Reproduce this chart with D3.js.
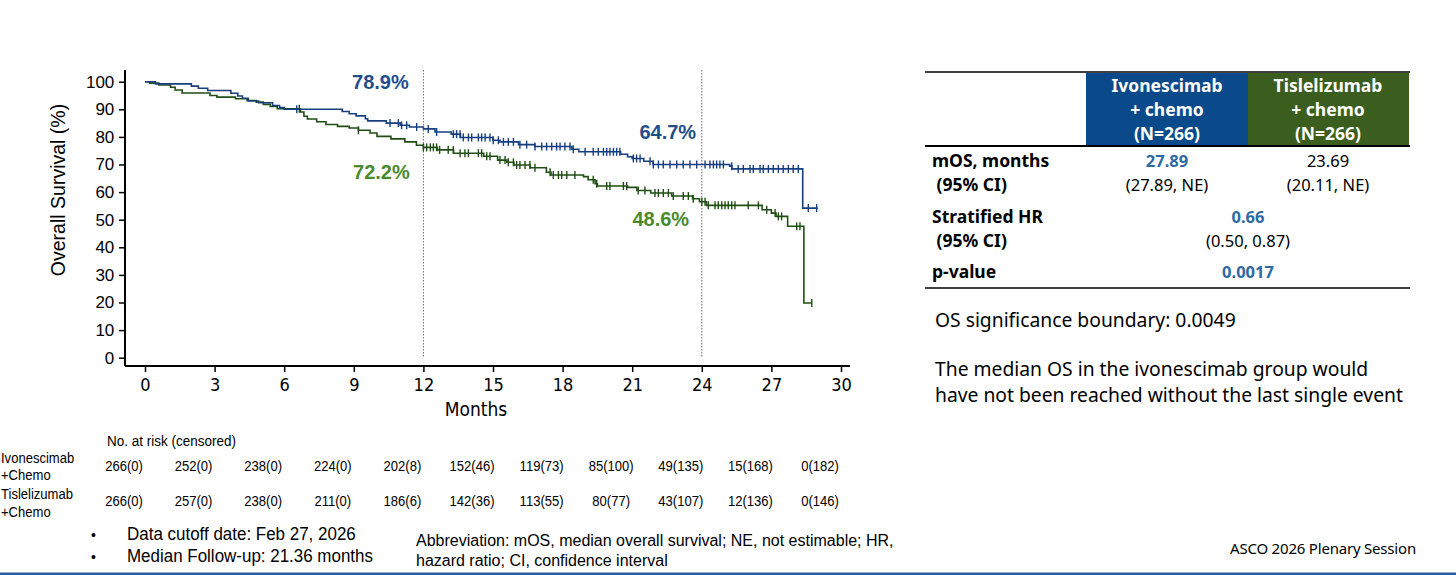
<!DOCTYPE html>
<html>
<head>
<meta charset="utf-8">
<script src="https://cdn.jsdelivr.net/npm/d3@7"></script>
<style>
  body { margin: 0; background: #fff; }
</style>
</head>
<body>
<div id="chart"></div>
<script>
// KM step data: [month, survival %] (value holds from that month on)
const ivoSteps = [[0,100],[0.45,99.2],[2.0,98.4],[2.3,97.6],[2.7,96.8],[3.7,95.8],[4.0,94.8],[4.2,94],[4.45,93],
  [4.9,92.4],[5.5,91.4],[5.8,90.6],[6.0,90],[8.5,89.2],[8.8,88.4],[9.1,87.6],[9.5,86.6],[9.6,85.8],[10.4,85.0],
  [11.0,84.2],[11.4,83.6],[12.0,82.9],[12.5,81.8],[13.2,81.0],[13.6,79.8],[15.0,78.8],[15.3,78.2],[16.1,77.2],
  [16.8,76.5],[18.4,75.5],[18.7,74.6],[20.5,73.7],[20.8,72.8],[21.0,72.2],[21.5,71.2],[21.9,70.0],[25.2,69.4],
  [25.3,68.4],[28.35,54.2],[29.0,54.2]];
const tisSteps = [[0,100],[0.2,99.5],[0.6,98.8],[1.1,98.0],[1.3,97],[1.6,95.9],[2.8,95.0],[3.1,94.4],[3.9,93.8],
  [4.4,93.2],[4.8,92.6],[5.1,91.8],[5.4,91.0],[5.7,90.2],[6.7,89],[6.85,87.5],[7.0,86.5],[7.4,85.5],[7.8,84.5],
  [8.3,83.8],[8.8,83.2],[9.2,82.4],[9.7,81.4],[10.0,80.2],[10.6,79.3],[11.2,78.2],[11.7,77.0],[12.0,76.2],
  [12.6,75.3],[13.3,74.1],[14.6,73.0],[15.2,71.6],[15.6,70.8],[15.9,69.8],[16.6,68.8],[17.3,67.2],[17.5,66.2],
  [18.9,65.6],[19.1,64.5],[19.4,63.0],[19.5,62.2],[20.8,61.7],[21.2,60.6],[21.8,59.7],[22.7,58.6],[23.6,57.6],
  [23.9,56.5],[24.2,55.2],[26.6,53.6],[27.0,52.4],[27.2,51.2],[27.7,47.6],[28.4,19.8],[28.75,19.8]];

// censoring times (months)
const ivoCensor = [6.54,10.56,10.92,11.06,11.28,11.71,12.21,12.57,13.29,13.43,13.58,13.72,13.94,14.08,14.37,14.51,
  14.66,14.87,15.01,15.23,15.45,15.66,15.88,16.16,16.45,16.81,17.1,17.31,17.53,17.74,17.89,18.1,18.32,18.46,18.97,
  19.32,19.54,19.76,19.9,20.04,20.19,20.33,20.47,21.05,21.19,21.34,21.77,21.91,22.13,22.34,22.63,22.92,23.2,23.49,
  23.78,24.14,24.35,24.5,24.64,24.78,24.93,25.29,25.57,25.79,26.08,26.22,26.51,26.65,26.87,27.08,27.3,27.51,27.73,
  27.94,28.16,28.59,28.95];
const tisCensor = [6.65,9.2,12.0,12.14,12.3,12.43,12.57,12.7,13.07,13.29,13.58,13.79,13.94,14.37,14.51,14.73,14.87,
  15.3,15.52,15.66,15.88,16.02,16.16,16.38,16.59,16.81,17.46,17.6,17.82,17.96,18.18,18.53,19.32,19.47,19.9,20.04,
  20.62,20.76,21.26,21.55,21.98,22.13,22.34,22.56,22.77,23.2,23.42,23.63,24.0,24.14,24.28,24.57,24.71,24.86,25.0,
  25.14,25.29,25.43,26.0,26.44,26.8,27.16,27.3,27.44,28.09,28.23,28.74];

const xTicks = [0,3,6,9,12,15,18,21,24,27,30];
const yTicks = [0,10,20,30,40,50,60,70,80,90,100];
const landmarks = [12, 24];
const landmarkLabels = [
  {month: 12, ivo: "78.9%", tis: "72.2%"},
  {month: 24, ivo: "64.7%", tis: "48.6%"}
];

const riskTimes = [0,3,6,9,12,15,18,21,24,27,30];
const ivoRisk = ["266(0)","252(0)","238(0)","224(0)","202(8)","152(46)","119(73)","85(100)","49(135)","15(168)","0(182)"];
const tisRisk = ["266(0)","257(0)","238(0)","211(0)","186(6)","142(36)","113(55)","80(77)","43(107)","12(136)","0(146)"];

const BLUE = "#173f7f", GREEN = "#1f4f14";
const BLUE_LBL = "#1f4e8c", GREEN_LBL = "#4a8a2c";

const W = 1456, H = 575;
const sans = "'Liberation Sans', Arial, sans-serif";
const narrow = "'Liberation Sans Narrow', 'Arial Narrow', 'DejaVu Sans Condensed', 'Liberation Sans', sans-serif";
const tf = "'Noto Sans', 'Open Sans', sans-serif";

const svg = d3.select("#chart").append("svg").attr("width", W).attr("height", H)
  .attr("font-family", sans);

// condensed text: Liberation Sans squeezed horizontally
function ntext(px, py, str, size, sx, anchor) {
  return svg.append("text").attr("transform", `translate(${px},${py}) scale(${sx},1)`)
    .attr("text-anchor", anchor || "start").attr("font-size", size).text(str);
}

// scales
const x = d3.scaleLinear().domain([0, 30]).range([145, 841]);
const y = d3.scaleLinear().domain([0, 100]).range([357.7, 81.7]);

// axes
const xAxis = svg.append("g").attr("transform", "translate(0,366)")
  .call(d3.axisBottom(x).tickValues(xTicks).tickSize(6).tickSizeOuter(0));
xAxis.select(".domain").attr("d", "M125,0H850");
const yAxis = svg.append("g").attr("transform", "translate(125,0)")
  .call(d3.axisLeft(y).tickValues(yTicks).tickSize(6).tickSizeOuter(0));
yAxis.select(".domain").attr("d", "M0,70V366");
svg.selectAll(".domain").attr("stroke", "#000").attr("stroke-width", 2);
svg.selectAll(".tick line").attr("stroke", "#000").attr("stroke-width", 1.5);
xAxis.selectAll(".tick text").attr("font-size", 18).attr("dy", "0.9em").attr("fill", "#000")
  .attr("font-family", narrow);
yAxis.selectAll(".tick text").attr("font-size", 17).attr("fill", "#000").attr("font-family", sans)
  .attr("dx", "-0.1em");

svg.append("text").attr("transform", "translate(65,190) rotate(-90)")
  .attr("text-anchor", "middle").attr("font-size", 19.5).text("Overall Survival (%)");
svg.append("text").attr("x", 476).attr("y", 416).attr("text-anchor", "middle")
  .attr("font-size", 19).attr("font-family", narrow).text("Months");

// landmark dotted lines
svg.selectAll(".landmark").data(landmarks).enter().append("line")
  .attr("x1", d => x(d)).attr("x2", d => x(d)).attr("y1", 70).attr("y2", 357)
  .attr("stroke", "#666").attr("stroke-width", 1).attr("stroke-dasharray", "1.5,1.5");

// curves
const stepLine = d3.line().x(d => x(d[0])).y(d => y(d[1])).curve(d3.curveStepAfter);
function survAt(steps, t) {
  let v = steps[0][1];
  for (const s of steps) { if (s[0] <= t) v = s[1]; }
  return v;
}
const arms = [
  {steps: tisSteps, censor: tisCensor, color: GREEN},
  {steps: ivoSteps, censor: ivoCensor, color: BLUE}
];
arms.forEach(a => {
  svg.append("path").datum(a.steps).attr("d", stepLine)
    .attr("fill", "none").attr("stroke", a.color).attr("stroke-width", 1.6);
  svg.selectAll(null).data(a.censor).enter().append("line")
    .attr("x1", d => x(d)).attr("x2", d => x(d))
    .attr("y1", d => y(survAt(a.steps, d)) - 4).attr("y2", d => y(survAt(a.steps, d)) + 4)
    .attr("stroke", a.color).attr("stroke-width", 1.4);
});

// landmark labels
const lblOffsets = [{ivo: [-43, 89], tis: [-42, 179]}, {ivo: [-34, 139], tis: [-41, 226]}];
landmarkLabels.forEach((l, i) => {
  svg.append("text").attr("x", x(l.month) + lblOffsets[i].ivo[0]).attr("y", lblOffsets[i].ivo[1])
    .attr("text-anchor", "middle").attr("font-size", 20).attr("font-weight", "bold")
    .attr("fill", BLUE_LBL).text(l.ivo);
  svg.append("text").attr("x", x(l.month) + lblOffsets[i].tis[0]).attr("y", lblOffsets[i].tis[1])
    .attr("text-anchor", "middle").attr("font-size", 20).attr("font-weight", "bold")
    .attr("fill", GREEN_LBL).text(l.tis);
});

// number at risk table
const rx = d3.scaleLinear().domain([0, 30]).range([124, 820]);
ntext(107, 446, "No. at risk (censored)", 14.5, 0.93);
[["Ivonescimab", 463], ["+Chemo", 480], ["Tislelizumab", 499], ["+Chemo", 517]].forEach(r => {
  ntext(1, r[1], r[0], 14.5, 0.9);
});
[[ivoRisk, 471], [tisRisk, 506]].forEach(r => {
  r[0].forEach((d, i) => ntext(rx(riskTimes[i]), r[1], d, 14.5, 0.9, "middle"));
});

// footnotes
const foot = [["Data cutoff date: Feb 27, 2026", 540], ["Median Follow-up: 21.36 months", 562]];
foot.forEach(f => {
  svg.append("text").attr("x", 91).attr("y", f[1]).attr("font-size", 14).text("•");
  ntext(127, f[1], f[0], 17.5, 0.97);
});
ntext(416, 546, "Abbreviation: mOS, median overall survival; NE, not estimable; HR,", 16, 1.0);
ntext(416, 566, "hazard ratio; CI, confidence interval", 16, 1.0);
svg.append("text").attr("x", 1230).attr("y", 554).attr("font-size", 15)
  .attr("font-family", tf).attr("letter-spacing", -0.2)
  .text("ASCO 2026 Plenary Session");
svg.append("line").attr("x1", 0).attr("x2", W).attr("y1", 574).attr("y2", 574)
  .attr("stroke", "#2a5d9c").attr("stroke-width", 3);

// results table
const T = svg.append("g").attr("font-family", tf);
T.append("line").attr("x1", 925).attr("x2", 1410).attr("y1", 72).attr("y2", 72).attr("stroke", "#000").attr("stroke-width", 1.5);
T.append("rect").attr("x", 1086).attr("y", 73).attr("width", 162).attr("height", 72).attr("fill", "#0a4a8a");
T.append("rect").attr("x", 1248).attr("y", 73).attr("width", 161).attr("height", 72).attr("fill", "#3b5e1e");
T.append("line").attr("x1", 925).attr("x2", 1410).attr("y1", 146).attr("y2", 146).attr("stroke", "#000").attr("stroke-width", 2);
T.append("line").attr("x1", 925).attr("x2", 1410).attr("y1", 288).attr("y2", 288).attr("stroke", "#000").attr("stroke-width", 1.5);

const headers = [["Ivonescimab", "+ chemo", "(N=266)"], ["Tislelizumab", "+ chemo", "(N=266)"]];
const colX = [1167, 1328];
headers.forEach((h, i) => {
  h.forEach((line, j) => {
    T.append("text").attr("x", colX[i]).attr("y", 92 + j * 24).attr("text-anchor", "middle")
      .attr("font-size", 17.5).attr("font-weight", "bold").attr("fill", "#fff").text(line);
  });
});
const rowLabels = [["mOS, months", 167], [" (95% CI)", 191], ["Stratified HR", 223], [" (95% CI)", 247], ["p-value", 278]];
rowLabels.forEach(r => {
  T.append("text").attr("x", 932).attr("y", r[1]).attr("font-size", 17.5).attr("font-weight", "bold")
    .attr("xml:space", "preserve").text(r[0]);
});
const VAL_BLUE = "#2d6aa3";
const cells = [
  [colX[0], 167, "27.89", true], [colX[0], 191, "(27.89, NE)", false],
  [colX[1], 167, "23.69", false], [colX[1], 191, "(20.11, NE)", false],
  [1248, 223, "0.66", true], [1248, 247, "(0.50, 0.87)", false],
  [1248, 278, "0.0017", true]
];
cells.forEach(c => {
  T.append("text").attr("x", c[0]).attr("y", c[1]).attr("text-anchor", "middle").attr("font-size", 16.5)
    .attr("font-weight", c[3] ? "bold" : "normal").attr("fill", c[3] ? VAL_BLUE : "#000").text(c[2]);
});
T.append("text").attr("x", 935).attr("y", 327).attr("font-size", 19.3).text("OS significance boundary: 0.0049");
T.append("text").attr("x", 935).attr("y", 376).attr("font-size", 19.3).text("The median OS in the ivonescimab group would");
T.append("text").attr("x", 935).attr("y", 402).attr("font-size", 19.3).text("have not been reached without the last single event");
</script>
</body>
</html>
